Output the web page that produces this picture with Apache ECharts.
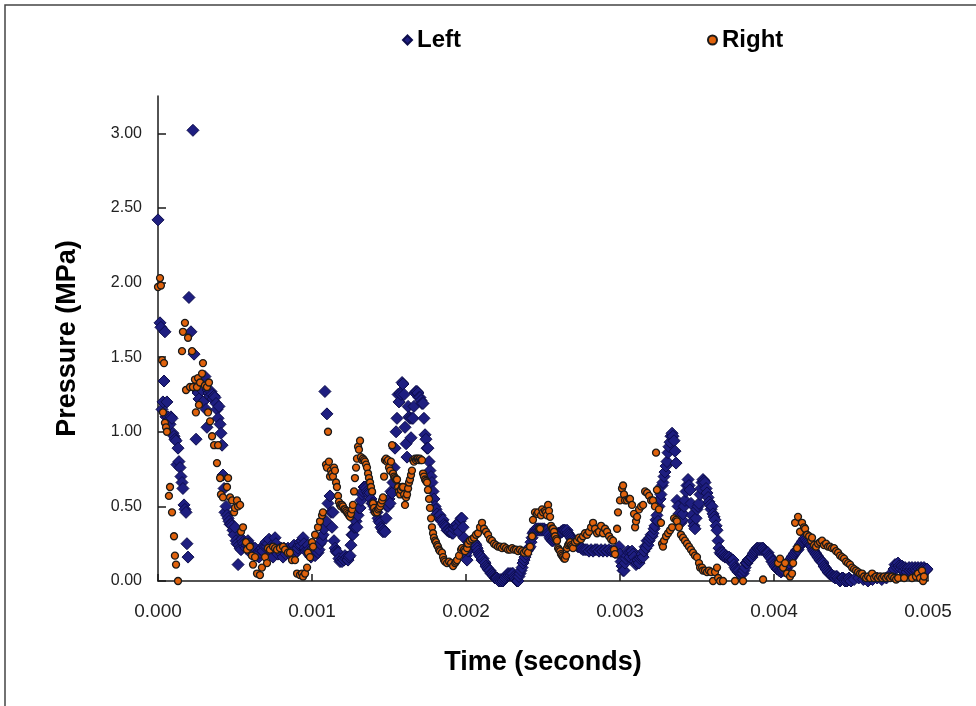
<!DOCTYPE html>
<html>
<head>
<meta charset="utf-8">
<script src="https://cdn.jsdelivr.net/npm/echarts@6/dist/echarts.min.js"></script>
<style>
html,body{margin:0;padding:0;background:#fff;}
#chart{width:976px;height:706px;}
</style>
</head>
<body>
<div id="chart"></div>
<script>
// Time in microseconds, pressure in MPa
const leftPoints = [[0,2.42],[13,1.73],[19,1.70],[26,1.15],[32,1.20],[39,1.34],[45,1.67],[52,1.10],[58,1.20],[65,1.10],[71,1.08],[78,1.05],[84,1.10],[91,1.09],[97,0.99],[104,0.97],[110,0.95],[117,0.94],[123,0.78],[130,0.89],[136,0.80],[143,0.76],[149,0.70],[156,0.66],[162,0.62],[169,0.51],[175,0.48],[182,0.46],[188,0.25],[195,0.16],
[201,1.90],[214,1.67],[227,3.02],[234,1.52],[247,0.95],[253,1.28],[260,1.26],[266,1.22],[273,1.30],[279,1.35],[286,1.28],[292,1.20],[299,1.33],[305,1.37],[312,1.15],[318,1.03],[325,1.28],[331,1.26],[338,1.24],[344,1.27],[351,1.25],[357,1.22],[364,1.24],[370,1.23],[377,1.19],[383,1.15],[390,1.09],[396,1.17],[403,1.05],[409,0.99],[416,0.91],[422,0.71],[429,0.62],[435,0.46],[442,0.50],[448,0.44],[455,0.42],[461,0.40],[468,0.38],[474,0.38],[481,0.37],[487,0.34],[494,0.31],[500,0.36],[507,0.27],[513,0.25],[520,0.11],[526,0.24],[533,0.22],[539,0.21],[546,0.28],[552,0.26],[559,0.25],[565,0.23],[571,0.22],[578,0.24],[584,0.27],[591,0.25],[597,0.23],[604,0.20],[610,0.18],[617,0.21],[623,0.19],[630,0.22],[636,0.18],[643,0.17],[649,0.19],[656,0.16],[662,0.19],[669,0.21],[675,0.22],[682,0.20],[688,0.24],[695,0.23],[701,0.26],[708,0.23],[714,0.25],[721,0.28],[727,0.22],[734,0.20],[740,0.24],[747,0.16],[753,0.21],[760,0.29],[766,0.25],[773,0.19],[779,0.18],[786,0.21],[792,0.20],[799,0.22],[805,0.18],[812,0.16],[818,0.22],[825,0.20],[831,0.18],[838,0.21],[844,0.22],[851,0.19],[857,0.18],[864,0.20],[870,0.22],[877,0.21],[883,0.24],[890,0.21],[896,0.19],[903,0.20],[909,0.22],[916,0.24],[922,0.26],[929,0.24],[935,0.27],[942,0.29],[948,0.25],[955,0.22],[961,0.20],[968,0.21],[974,0.24],[981,0.21],[987,0.17],[994,0.16],[1000,0.19],[1007,0.22],[1013,0.19],[1020,0.17],[1026,0.20],[1033,0.22],[1039,0.19],[1046,0.21],[1052,0.25],[1059,0.29],[1065,0.27],[1072,0.31],[1078,0.35],
[1084,1.27],[1091,0.40],[1097,1.12],[1104,0.52],[1117,0.57],[1123,0.46],[1130,0.36],[1136,0.46],[1143,0.27],[1150,0.22],[1156,0.20],[1162,0.19],[1169,0.19],[1175,0.15],[1182,0.13],[1188,0.14],[1195,0.13],[1201,0.15],[1208,0.14],[1214,0.17],[1221,0.15],[1227,0.16],[1234,0.14],[1240,0.16],[1247,0.17],[1253,0.24],[1260,0.31],[1266,0.31],[1273,0.36],[1279,0.36],[1286,0.40],[1292,0.36],[1299,0.44],[1305,0.49],[1312,0.49],[1318,0.54],[1325,0.58],[1331,0.60],[1338,0.63],[1344,0.63],[1351,0.62],[1357,0.60],[1364,0.59],[1370,0.58],[1377,0.59],[1383,0.55],[1390,0.52],[1396,0.52],[1403,0.50],[1409,0.48],[1416,0.46],[1422,0.46],[1429,0.42],[1435,0.40],[1442,0.39],[1448,0.36],[1455,0.35],[1461,0.33],[1468,0.34],[1474,0.33],[1481,0.42],[1487,0.50],[1494,0.50],[1500,0.55],[1507,0.52],[1513,0.60],[1520,0.59],[1526,0.66],[1533,0.76],[1539,0.89],[1546,1.00],[1552,1.09],[1559,1.25],[1565,1.20],[1572,1.26],[1578,1.25],[1585,1.33],[1591,1.32],[1598,1.25],[1604,1.03],[1611,0.92],[1617,0.83],[1624,1.17],[1630,1.10],[1636,1.09],[1643,0.96],[1649,1.09],[1656,1.09],[1662,1.17],[1669,1.26],[1675,1.27],[1682,1.27],[1688,1.26],[1695,1.23],[1701,1.23],[1708,1.21],[1714,1.19],[1721,1.19],[1727,1.09],[1734,0.98],[1740,0.95],[1747,0.89],[1753,0.89],[1760,0.80],[1766,0.74],[1773,0.70],[1779,0.66],[1786,0.60],[1792,0.55],[1799,0.50],[1805,0.48],[1812,0.45],[1818,0.43],[1825,0.42],[1831,0.44],[1838,0.41],[1844,0.40],[1851,0.41],[1857,0.38],[1864,0.37],[1870,0.36],[1877,0.34],[1883,0.34],[1890,0.33],[1896,0.33],[1903,0.34],[1909,0.32],[1916,0.32],[1922,0.35],[1929,0.37],[1935,0.36],[1942,0.38],[1948,0.36],[1955,0.33],[1961,0.40],[1968,0.42],[1974,0.42],[1981,0.36],[1987,0.29],[1994,0.22],[2000,0.17],[2007,0.14],[2013,0.20],[2020,0.26],[2026,0.23],[2033,0.25],[2039,0.26],[2046,0.24],[2052,0.26],[2059,0.25],[2065,0.24],[2072,0.22],[2078,0.20],[2085,0.18],[2091,0.17],[2098,0.16],[2104,0.14],[2111,0.15],[2117,0.13],[2124,0.12],[2130,0.10],[2137,0.09],[2143,0.08],[2150,0.07],[2156,0.07],[2163,0.05],[2169,0.05],[2176,0.04],[2182,0.03],[2188,0.02],[2195,0.02],[2201,0.02],[2208,0.01],[2214,0.00],[2221,0.01],[2227,0.00],[2234,0.01],[2240,0.00],[2247,0.01],[2253,0.02],[2260,0.03],[2266,0.04],[2273,0.05],[2279,0.04],[2286,0.05],[2292,0.04],[2299,0.05],[2305,0.05],[2312,0.03],[2318,0.02],[2325,0.01],[2331,0.00],[2338,0.00],[2344,0.03],[2351,0.05],[2357,0.07],[2364,0.09],[2370,0.12],[2377,0.14],[2383,0.16],[2390,0.18],[2396,0.20],[2403,0.21],[2409,0.22],[2416,0.23],[2422,0.26],[2429,0.29],[2435,0.32],[2442,0.33],[2448,0.34],[2455,0.35],[2461,0.34],[2468,0.35],[2474,0.34],[2481,0.35],[2487,0.34],[2494,0.35],[2500,0.34],[2507,0.35],[2513,0.34],[2520,0.34],[2526,0.34],[2533,0.32],[2539,0.31],[2546,0.29],[2552,0.28],[2559,0.27],[2565,0.27],[2572,0.28],[2578,0.29],[2585,0.30],[2591,0.31],[2598,0.32],[2604,0.32],[2611,0.32],[2617,0.33],[2624,0.33],[2630,0.34],[2637,0.34],[2643,0.34],[2650,0.33],[2656,0.34],[2663,0.32],[2669,0.31],[2676,0.30],[2682,0.29],[2689,0.28],[2695,0.27],[2702,0.26],[2708,0.25],[2714,0.25],[2721,0.24],[2727,0.23],[2734,0.23],[2740,0.23],[2747,0.22],[2753,0.22],[2760,0.21],[2773,0.21],[2786,0.21],[2799,0.20],[2812,0.21],[2825,0.20],[2838,0.21],[2851,0.21],[2864,0.20],[2877,0.21],[2890,0.20],[2903,0.21],[2916,0.20],[2929,0.21],[2942,0.20],[2955,0.20],[2968,0.19],[2981,0.19],[2994,0.23],[3000,0.18],[3007,0.13],[3013,0.10],[3020,0.07],[3026,0.07],[3033,0.12],[3039,0.15],[3046,0.17],[3052,0.20],[3059,0.19],[3065,0.16],[3072,0.19],[3078,0.20],[3085,0.18],[3091,0.16],[3098,0.13],[3104,0.11],[3111,0.12],[3117,0.14],[3124,0.12],[3130,0.15],[3137,0.16],[3143,0.18],[3150,0.16],[3156,0.20],[3163,0.23],[3169,0.22],[3176,0.27],[3182,0.24],[3189,0.27],[3195,0.29],[3202,0.31],[3208,0.30],[3214,0.32],[3221,0.35],[3227,0.37],[3234,0.41],[3240,0.44],[3247,0.40],[3253,0.50],[3260,0.55],[3266,0.58],[3273,0.64],[3279,0.66],[3286,0.70],[3292,0.73],[3299,0.77],[3305,0.80],[3312,0.86],[3318,0.90],[3325,0.93],[3331,0.97],[3338,0.99],[3344,0.97],[3351,0.94],[3357,0.87],[3364,0.79],[3370,0.54],[3377,0.50],[3383,0.45],[3390,0.41],[3396,0.39],[3403,0.41],[3409,0.45],[3416,0.50],[3422,0.54],[3429,0.60],[3435,0.64],[3442,0.68],[3448,0.64],[3455,0.61],[3461,0.52],[3468,0.44],[3474,0.40],[3481,0.37],[3487,0.35],[3494,0.42],[3500,0.48],[3507,0.50],[3513,0.52],[3520,0.58],[3526,0.62],[3533,0.66],[3539,0.68],[3546,0.67],[3552,0.66],[3559,0.62],[3565,0.59],[3572,0.56],[3578,0.53],[3585,0.51],[3591,0.48],[3598,0.50],[3604,0.45],[3611,0.43],[3617,0.41],[3624,0.37],[3630,0.34],[3637,0.27],[3643,0.22],[3650,0.19],[3656,0.18],[3663,0.19],[3669,0.17],[3676,0.18],[3682,0.16],[3689,0.17],[3695,0.16],[3702,0.15],[3708,0.16],[3714,0.14],[3721,0.15],[3727,0.14],[3734,0.14],[3740,0.11],[3747,0.09],[3753,0.08],[3760,0.07],[3766,0.06],[3773,0.07],[3779,0.05],[3786,0.04],[3792,0.05],[3799,0.05],[3805,0.07],[3812,0.09],[3818,0.12],[3825,0.12],[3831,0.14],[3838,0.14],[3844,0.15],[3851,0.16],[3857,0.16],[3864,0.18],[3870,0.19],[3877,0.20],[3883,0.21],[3890,0.22],[3896,0.22],[3903,0.21],[3909,0.22],[3916,0.21],[3922,0.22],[3929,0.22],[3935,0.21],[3942,0.20],[3948,0.19],[3955,0.19],[3961,0.19],[3968,0.17],[3974,0.16],[3981,0.15],[3987,0.13],[3994,0.13],[4000,0.11],[4007,0.10],[4013,0.09],[4020,0.08],[4026,0.08],[4033,0.07],[4039,0.07],[4046,0.06],[4052,0.07],[4059,0.08],[4065,0.07],[4072,0.09],[4078,0.08],[4085,0.09],[4091,0.11],[4098,0.12],[4104,0.14],[4111,0.15],[4117,0.16],[4124,0.17],[4130,0.18],[4137,0.19],[4143,0.20],[4150,0.21],[4156,0.21],[4163,0.23],[4169,0.24],[4176,0.25],[4182,0.26],[4189,0.27],[4195,0.28],[4202,0.29],[4208,0.28],[4215,0.27],[4221,0.26],[4228,0.25],[4234,0.24],[4241,0.24],[4247,0.23],[4254,0.21],[4260,0.20],[4267,0.19],[4273,0.18],[4280,0.17],[4286,0.16],[4293,0.15],[4299,0.14],[4306,0.13],[4312,0.13],[4318,0.12],[4325,0.10],[4332,0.09],[4338,0.08],[4345,0.07],[4351,0.06],[4358,0.05],[4364,0.05],[4371,0.04],[4377,0.04],[4384,0.03],[4390,0.03],[4397,0.02],[4403,0.03],[4409,0.03],[4416,0.02],[4422,0.01],[4429,0.00],[4435,0.01],[4442,0.02],[4448,0.02],[4455,0.01],[4461,0.00],[4468,0.01],[4474,0.00],[4481,0.01],[4487,0.02],[4494,0.01],[4500,0.00],[4520,0.01],[4550,0.02],[4580,0.01],[4610,0.00],[4640,0.01],[4670,0.02],[4700,0.01],[4730,0.02],[4760,0.05],[4779,0.08],[4786,0.11],[4792,0.10],[4799,0.09],[4805,0.12],[4812,0.10],[4818,0.09],[4825,0.08],[4831,0.10],[4838,0.09],[4844,0.07],[4851,0.09],[4857,0.08],[4864,0.06],[4870,0.08],[4877,0.09],[4883,0.07],[4890,0.08],[4896,0.09],[4903,0.07],[4909,0.08],[4916,0.09],[4922,0.08],[4929,0.07],[4935,0.09],[4942,0.08],[4948,0.06],[4955,0.09],[4961,0.08],[4968,0.07],[4974,0.09],[4981,0.08],[4987,0.07],[4994,0.08]];

const rightPoints = [[0,1.97],[13,2.03],[19,1.98],[26,1.48],[32,1.13],[39,1.46],[45,1.06],[52,1.03],[58,1.00],[71,0.57],[78,0.63],[91,0.46],[104,0.30],[110,0.17],[117,0.11],[130,0.00],
[156,1.54],[162,1.67],[175,1.73],[182,1.28],[195,1.63],[208,1.30],[221,1.54],[227,1.30],[240,1.35],[246,1.13],[253,1.30],[260,1.36],[266,1.18],[273,1.33],[286,1.39],[292,1.46],[305,1.31],[318,1.30],[325,1.13],[331,1.33],[338,1.07],[351,0.97],[364,0.91],[383,0.79],[390,0.91],[403,0.69],[409,0.58],[422,0.56],[448,0.63],[455,0.69],[468,0.56],[481,0.54],[494,0.46],[500,0.49],[513,0.54],[520,0.50],[533,0.51],[539,0.33],[552,0.36],[571,0.26],[578,0.21],[597,0.23],[610,0.17],[617,0.11],[630,0.16],[643,0.05],[662,0.04],[675,0.09],[695,0.16],[708,0.12],[714,0.22],[727,0.21],[747,0.23],[760,0.22],[773,0.21],[792,0.22],[812,0.23],[825,0.21],[844,0.19],[857,0.19],[870,0.14],[890,0.14],[903,0.05],[922,0.04],[935,0.05],[942,0.03],[955,0.05],[968,0.09],[974,0.19],[987,0.16],[1000,0.26],[1007,0.23],[1020,0.31],[1039,0.36],[1052,0.40],[1065,0.44],[1071,0.46],[1091,0.78],[1097,0.76],[1104,1.00],[1110,0.80],[1117,0.70],[1123,0.74],[1130,0.72],[1136,0.70],[1143,0.76],[1149,0.74],[1156,0.66],[1162,0.63],[1169,0.57],[1175,0.53],[1182,0.51],[1188,0.50],[1195,0.51],[1201,0.50],[1208,0.48],[1214,0.48],[1221,0.47],[1227,0.46],[1234,0.45],[1240,0.44],[1247,0.43],[1253,0.45],[1260,0.48],[1266,0.51],[1273,0.60],[1279,0.69],[1286,0.76],[1292,0.82],[1299,0.90],[1305,0.88],[1312,0.94],[1318,0.83],[1325,0.81],[1331,0.82],[1338,0.81],[1344,0.80],[1351,0.78],[1357,0.76],[1364,0.72],[1370,0.69],[1377,0.66],[1383,0.63],[1390,0.60],[1396,0.52],[1403,0.49],[1409,0.46],[1416,0.47],[1422,0.46],[1429,0.48],[1435,0.49],[1442,0.50],[1448,0.52],[1455,0.54],[1461,0.56],[1468,0.70],[1474,0.81],[1481,0.82],[1487,0.80],[1494,0.81],[1500,0.76],[1507,0.74],[1513,0.80],[1520,0.91],[1526,0.72],[1533,0.70],[1539,0.69],[1546,0.68],[1552,0.68],[1559,0.63],[1565,0.60],[1572,0.58],[1578,0.61],[1585,0.63],[1591,0.63],[1598,0.58],[1604,0.51],[1611,0.56],[1617,0.58],[1624,0.62],[1630,0.66],[1636,0.68],[1643,0.71],[1649,0.74],[1656,0.81],[1662,0.80],[1669,0.82],[1675,0.81],[1682,0.82],[1688,0.82],[1695,0.81],[1701,0.82],[1708,0.81],[1714,0.81],[1721,0.72],[1727,0.70],[1734,0.68],[1740,0.67],[1747,0.66],[1753,0.61],[1760,0.55],[1766,0.49],[1773,0.42],[1779,0.36],[1786,0.32],[1792,0.29],[1799,0.27],[1805,0.26],[1812,0.24],[1818,0.23],[1825,0.21],[1831,0.20],[1844,0.19],[1851,0.16],[1857,0.14],[1864,0.13],[1877,0.12],[1890,0.13],[1903,0.12],[1916,0.10],[1929,0.12],[1935,0.13],[1942,0.14],[1955,0.17],[1968,0.21],[1974,0.22],[1987,0.21],[1994,0.20],[2007,0.22],[2013,0.25],[2026,0.27],[2039,0.28],[2052,0.29],[2065,0.31],[2078,0.32],[2091,0.36],[2104,0.39],[2117,0.35],[2130,0.33],[2143,0.31],[2156,0.28],[2169,0.27],[2182,0.25],[2195,0.24],[2208,0.23],[2221,0.23],[2234,0.22],[2247,0.23],[2260,0.22],[2273,0.21],[2286,0.21],[2299,0.22],[2312,0.21],[2325,0.21],[2338,0.20],[2351,0.21],[2364,0.20],[2377,0.19],[2390,0.20],[2403,0.19],[2416,0.23],[2429,0.30],[2435,0.41],[2448,0.46],[2461,0.45],[2468,0.46],[2474,0.35],[2481,0.35],[2487,0.44],[2494,0.48],[2500,0.46],[2513,0.47],[2520,0.46],[2526,0.44],[2533,0.51],[2539,0.47],[2546,0.43],[2552,0.37],[2559,0.35],[2565,0.35],[2572,0.33],[2578,0.30],[2585,0.28],[2591,0.27],[2598,0.22],[2604,0.21],[2611,0.20],[2617,0.18],[2624,0.17],[2630,0.16],[2637,0.15],[2643,0.15],[2650,0.17],[2656,0.22],[2663,0.24],[2669,0.25],[2676,0.26],[2682,0.24],[2689,0.23],[2695,0.22],[2708,0.26],[2721,0.27],[2734,0.29],[2747,0.28],[2760,0.30],[2773,0.32],[2786,0.31],[2799,0.33],[2812,0.36],[2825,0.39],[2838,0.35],[2851,0.32],[2864,0.33],[2877,0.37],[2890,0.32],[2903,0.35],[2916,0.33],[2929,0.30],[2942,0.28],[2955,0.27],[2961,0.21],[2968,0.18],[2981,0.35],[2987,0.46],[3000,0.54],[3013,0.62],[3020,0.64],[3026,0.58],[3033,0.54],[3046,0.54],[3059,0.55],[3065,0.55],[3078,0.51],[3091,0.45],[3098,0.36],[3104,0.40],[3111,0.43],[3124,0.48],[3137,0.50],[3150,0.51],[3163,0.60],[3176,0.59],[3189,0.57],[3202,0.54],[3214,0.54],[3227,0.50],[3234,0.86],[3240,0.61],[3253,0.48],[3266,0.39],[3273,0.25],[3279,0.23],[3286,0.27],[3299,0.30],[3312,0.32],[3325,0.34],[3338,0.36],[3351,0.42],[3364,0.41],[3370,0.40],[3383,0.36],[3396,0.31],[3409,0.29],[3422,0.27],[3435,0.25],[3448,0.23],[3461,0.21],[3474,0.19],[3487,0.17],[3500,0.16],[3513,0.12],[3520,0.09],[3533,0.09],[3539,0.07],[3552,0.07],[3565,0.06],[3578,0.07],[3591,0.06],[3604,0.00],[3617,0.06],[3630,0.09],[3637,0.02],[3650,0.00],[3669,0.00],[3747,0.00],[3799,0.00],[3929,0.01],[4026,0.12],[4039,0.15],[4059,0.09],[4072,0.12],[4085,0.05],[4104,0.03],[4117,0.05],[4124,0.12],[4137,0.39],[4150,0.22],[4156,0.43],[4169,0.33],[4182,0.39],[4195,0.36],[4202,0.35],[4215,0.31],[4228,0.30],[4241,0.27],[4247,0.29],[4260,0.24],[4273,0.23],[4286,0.25],[4299,0.26],[4312,0.27],[4325,0.24],[4338,0.25],[4351,0.23],[4364,0.23],[4377,0.22],[4390,0.22],[4403,0.20],[4416,0.19],[4429,0.17],[4442,0.16],[4455,0.15],[4468,0.13],[4481,0.12],[4494,0.11],[4507,0.09],[4520,0.08],[4533,0.07],[4546,0.06],[4559,0.05],[4572,0.05],[4585,0.03],[4598,0.02],[4611,0.03],[4624,0.02],[4637,0.05],[4650,0.02],[4663,0.03],[4676,0.02],[4689,0.03],[4702,0.02],[4715,0.03],[4728,0.02],[4741,0.03],[4754,0.02],[4767,0.03],[4780,0.02],[4793,0.01],[4806,0.02],[4845,0.02],[4896,0.02],[4922,0.03],[4935,0.05],[4948,0.02],[4961,0.07],[4968,0.00],[4974,0.03]];

const seriesNames = ['Left', 'Right'];
const xTicks = [0, 0.001, 0.002, 0.003, 0.004, 0.005];
const yTicks = [0, 0.5, 1.0, 1.5, 2.0, 2.5, 3.0];

const FONT = '"Liberation Sans", Arial, sans-serif';
const toSeconds = pts => pts.map(p => [p[0] / 1e6, p[1]]);

const chart = echarts.init(document.getElementById('chart'), null, {renderer: 'canvas'});
const axisLineStyle = {color: '#1a1a1a', width: 1.5};

const option = {
  animation: false,
  backgroundColor: '#ffffff',
  graphic: [{
    type: 'rect', silent: true, z: -10,
    shape: {x: 5, y: 5, width: 1000, height: 1000},
    style: {fill: 'none', stroke: '#444', lineWidth: 1.5}
  }],
  legend: {
    top: 23, left: 397, itemGap: 246, itemWidth: 9, itemHeight: 9,
    textStyle: {fontFamily: FONT, fontWeight: 'bold', fontSize: 24, color: '#000'},
    data: [{name: seriesNames[0], icon: 'diamond'}, {name: seriesNames[1], icon: 'circle'}]
  },
  grid: {left: 158, right: 48, top: 96, bottom: 125, containLabel: false},
  xAxis: {
    type: 'value', min: 0, max: 0.005, interval: 0.001,
    name: 'Time (seconds)', nameLocation: 'middle', nameGap: 68,
    nameTextStyle: {fontFamily: FONT, fontWeight: 'bold', fontSize: 27, color: '#000'},
    axisLine: {show: true, lineStyle: axisLineStyle},
    axisTick: {show: true, inside: true, length: 7, lineStyle: axisLineStyle, customValues: xTicks},
    axisLabel: {fontFamily: FONT, fontSize: 19, color: '#222', margin: 21,
      customValues: xTicks, formatter: v => v.toFixed(3)},
    splitLine: {show: false}
  },
  yAxis: {
    type: 'value', min: 0, max: 3.25, interval: 0.5,
    name: 'Pressure (MPa)', nameLocation: 'middle', nameGap: 77, nameRotate: 90,
    nameTextStyle: {fontFamily: FONT, fontWeight: 'bold', fontSize: 27, color: '#000'},
    axisLine: {show: true, lineStyle: axisLineStyle},
    axisTick: {show: true, inside: true, length: 8, lineStyle: axisLineStyle, customValues: yTicks},
    axisLabel: {fontFamily: FONT, fontSize: 16, color: '#222', margin: 16,
      customValues: yTicks, formatter: v => v.toFixed(2)},
    splitLine: {show: false}
  },
  series: [
    {
      name: seriesNames[0], type: 'scatter', symbol: 'diamond', symbolSize: 12,
      data: toSeconds(leftPoints), clip: false,
      itemStyle: {color: '#1e1e80', borderColor: '#0d0d4c', borderWidth: 1, opacity: 1}
    },
    {
      name: seriesNames[1], type: 'scatter', symbol: 'circle', symbolSize: 7,
      data: toSeconds(rightPoints), clip: false,
      itemStyle: {color: '#e0620c', borderColor: '#1a1a1a', borderWidth: 1.3, opacity: 1}
    }
  ]
};
chart.setOption(option);
</script>
</body>
</html>
